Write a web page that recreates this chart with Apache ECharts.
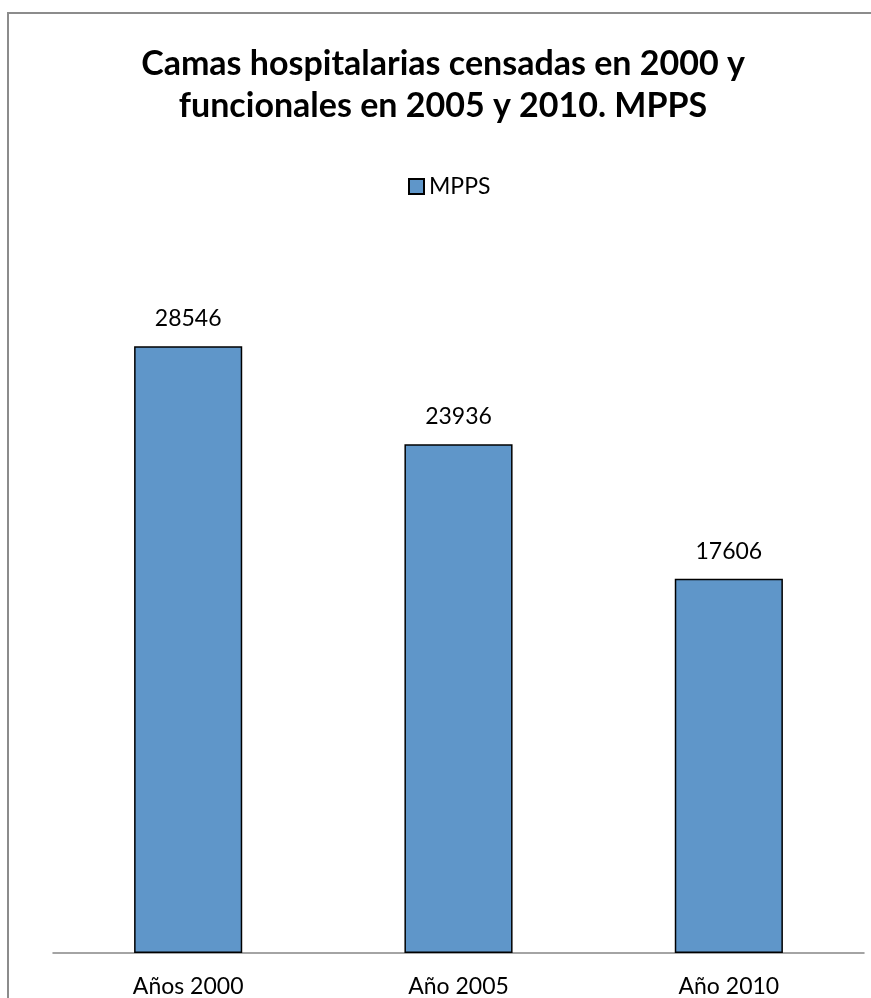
<!DOCTYPE html>
<html>
<head>
<meta charset="utf-8">
<style>
  html, body { margin: 0; padding: 0; background: #fff; }
  #chart { width: 871px; height: 998px; }
</style>
<script src="https://cdn.jsdelivr.net/npm/echarts@6/dist/echarts.min.js"></script>
</head>
<body>
<div id="chart"></div>
<script>
const categories = ['Años 2000', 'Año 2005', 'Año 2010'];
const camasMPPS = [28546, 23936, 17606];

const chart = echarts.init(document.getElementById('chart'));
const font = 'Lato, "Open Sans", sans-serif';

chart.setOption({
  animation: false,
  textStyle: { fontFamily: font },
  title: {
    text: 'Camas hospitalarias censadas en 2000 y\nfuncionales en 2005 y 2010. MPPS',
    left: 443, // centre of the title block in the original
    top: 43,
    padding: 0,
    textAlign: 'center',
    textStyle: {
      fontSize: 34,
      fontWeight: 'bold',
      color: '#000',
      lineHeight: 42,
      fontFamily: font
    }
  },
  legend: {
    top: 170,
    left: 403,
    itemWidth: 15,
    itemHeight: 15,
    itemGap: 6,
    textStyle: { fontSize: 23, color: '#000', fontFamily: font },
    data: [{ name: 'MPPS', icon: 'rect' }]
  },
  grid: {
    left: 53,
    right: 7,
    top: 209,
    bottom: 45,
    containLabel: false
  },
  xAxis: {
    type: 'category',
    data: categories,
    axisTick: { show: false },
    axisLine: { lineStyle: { color: '#868686', width: 1.5 } },
    axisLabel: { fontSize: 23, color: '#000', margin: 22, fontFamily: font }
  },
  yAxis: {
    type: 'value',
    show: false,
    min: 0,
    max: 35000,
    interval: 5000,
    splitLine: { show: false }
  },
  series: [{
    name: 'MPPS',
    type: 'bar',
    data: camasMPPS,
    barWidth: '40%',
    itemStyle: { color: '#5f96c9', borderColor: '#000', borderWidth: 1.5 },
    label: {
      show: true,
      position: 'top',
      distance: 16,
      fontSize: 23,
      color: '#000',
      fontFamily: font
    }
  }],
  graphic: [{
    type: 'rect',
    shape: { x: 8, y: 13, width: 900, height: 1100 },
    style: { fill: 'none', stroke: '#8c8c8c', lineWidth: 2 },
    silent: true
  }]
});
</script>
</body>
</html>
